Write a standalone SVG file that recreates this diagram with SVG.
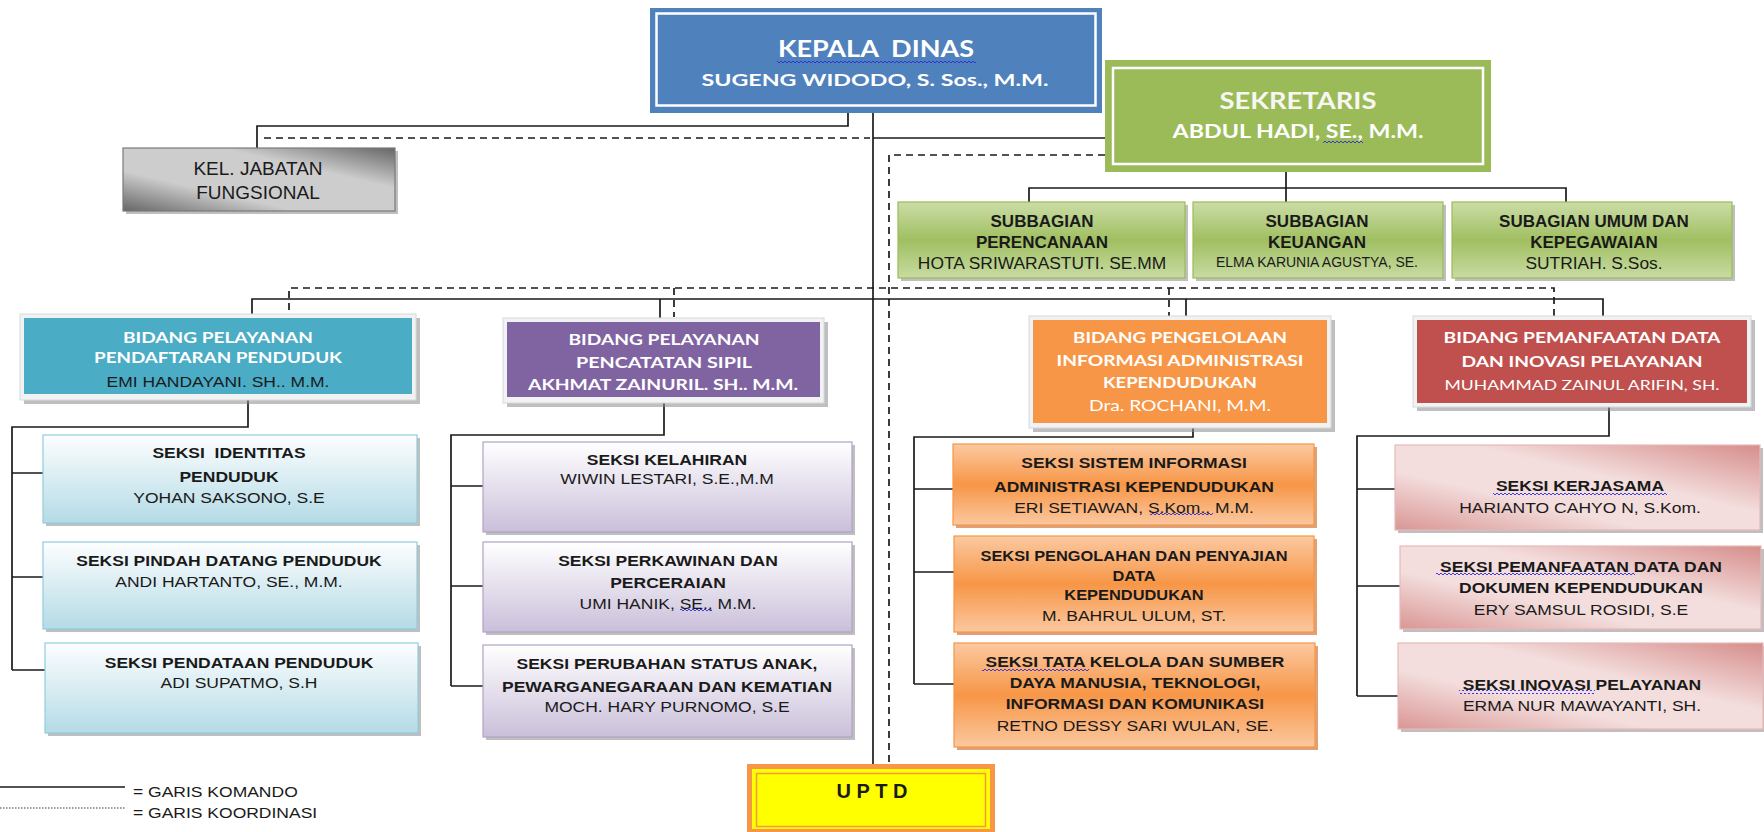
<svg xmlns="http://www.w3.org/2000/svg" width="1764" height="832" viewBox="0 0 1764 832">
<style>
.t{font-family:"Liberation Sans",Arial,sans-serif;text-anchor:middle;fill:#1a1a1a}
.b{font-weight:bold}
.c{font-family:Lato,"Open Sans",sans-serif;font-weight:bold;text-anchor:middle;fill:#ffffff}
.cn{font-family:Lato,"Open Sans",sans-serif;font-weight:normal;text-anchor:middle;fill:#ffffff}
.cs{font-family:Lato,"Open Sans",sans-serif;font-weight:bold;text-anchor:middle;fill:#f7f7f2}
.f155{font-size:15.5px}
.f145{font-size:14.5px}
.ln{fill:none;stroke:#1a1a1a;stroke-width:1.7}
.dl{fill:none;stroke:#1a1a1a;stroke-width:1.7;stroke-dasharray:7 5}
.sh{fill:#8a8a8a;opacity:0.55}
.fr{fill:#f0f2f3;stroke:#d6d9db;stroke-width:1}
</style>
<defs>
<linearGradient id="gGray" x1="0" y1="1" x2="1" y2="0"><stop offset="0" stop-color="#666"/><stop offset="0.32" stop-color="#cdcdcd"/><stop offset="0.68" stop-color="#cdcdcd"/><stop offset="1" stop-color="#666"/></linearGradient>
<linearGradient id="gGreen" x1="0" y1="0" x2="0" y2="1"><stop offset="0" stop-color="#cbdda7"/><stop offset="0.5" stop-color="#a0bf61"/><stop offset="1" stop-color="#c8dba2"/></linearGradient>
<linearGradient id="gTeal" x1="0" y1="0" x2="0" y2="1"><stop offset="0" stop-color="#fdfeff"/><stop offset="1" stop-color="#b4dbe6"/></linearGradient>
<linearGradient id="gPurple" x1="0" y1="0" x2="0" y2="1"><stop offset="0" stop-color="#ffffff"/><stop offset="1" stop-color="#cabfda"/></linearGradient>
<linearGradient id="gOrange" x1="0" y1="0" x2="0" y2="1"><stop offset="0" stop-color="#fbc9a1"/><stop offset="0.5" stop-color="#f79646"/><stop offset="1" stop-color="#fbc8a0"/></linearGradient>
<linearGradient id="gRed" x1="0" y1="1" x2="1" y2="0"><stop offset="0" stop-color="#d99694"/><stop offset="0.35" stop-color="#f3dedd"/><stop offset="0.6" stop-color="#f3dedd"/><stop offset="1" stop-color="#d68d8b"/></linearGradient>
<pattern id="wave" width="4" height="4" patternUnits="userSpaceOnUse"><path d="M0 2 L1 1 L2 2 L3 3 L4 2" fill="none" stroke="#2b2bd9" stroke-width="0.9"/></pattern>
</defs>
<rect width="1764" height="832" fill="#ffffff"/>

<g id="connectors">
<path class="ln" d="M848 113 V126 H257 V148"/>
<path class="ln" d="M873 113 V764"/>
<path class="ln" d="M873 138 H1105"/>
<path class="ln" d="M1286 164 V202 M1029 202 V188 H1566 V202"/>
<path class="ln" d="M252 314 V299 H1603 V316 M660 299 V318 M1186 299 V316"/>
<path class="ln" d="M248 394 V427 H12 V670 M12 473 H43 M12 577 H43 M12 670 H45"/>
<path class="ln" d="M664 397 V435 H451 V686 M451 486 H483 M451 586 H483 M451 686 H483"/>
<path class="ln" d="M1193 423 V437 H914 V684 M914 489 H953 M914 572 H954 M914 684 H954"/>
<path class="ln" d="M1609 403 V436 H1357 V696 M1357 489 H1395 M1357 586 H1400 M1357 696 H1398"/>
<path class="dl" d="M264 138 H870"/>
<path class="dl" d="M889 762 V155 H1105"/>
<path class="dl" d="M289 322 V288 H1554 V317 M674 288 V317 M1169 288 V320"/>
</g>

<g id="kepala-dinas">
<rect x="650" y="8" width="452" height="105" fill="#4f81bd"/>
<rect x="656.5" y="13.5" width="439" height="92" fill="none" stroke="#ffffff" stroke-width="2.5"/>
<text class="c" x="876" y="57" font-size="23.5" textLength="196" lengthAdjust="spacingAndGlyphs" xml:space="preserve">KEPALA  DINAS</text>
<rect x="777" y="60" width="199" height="4" fill="url(#wave)"/>
<text class="c" x="875" y="86" font-size="17.5" textLength="347" lengthAdjust="spacingAndGlyphs">SUGENG WIDODO, S. Sos., M.M.</text>
</g>

<g id="sekretaris">
<rect x="1105" y="60" width="386" height="112" fill="#9bbb59"/>
<rect x="1113" y="68" width="370" height="96" fill="none" stroke="#ffffff" stroke-width="2.5"/>
<text class="cs" x="1298" y="109" font-size="22" textLength="157" lengthAdjust="spacingAndGlyphs">SEKRETARIS</text>
<text class="c" x="1298" y="138" font-size="18" textLength="251" lengthAdjust="spacingAndGlyphs">ABDUL HADI, SE., M.M.</text>
<rect x="1323" y="140" width="40" height="4" fill="url(#wave)"/>
</g>

<g id="kel-jabatan-fungsional">
<rect class="sh" x="126" y="151" width="272" height="63"/>
<rect x="123" y="148" width="272" height="63" fill="url(#gGray)" stroke="#7a7a7a" stroke-width="1.2"/>
<text class="t" x="258" y="175" font-size="19">KEL. JABATAN</text>
<text class="t" x="258" y="199" font-size="19">FUNGSIONAL</text>
</g>

<g id="subbagian-perencanaan">
<rect class="sh" x="901" y="205" width="287" height="76"/>
<rect x="898" y="202" width="287" height="76" fill="url(#gGreen)" stroke="#9bbb59" stroke-width="1.2"/>
<text class="t b" x="1042" y="227" font-size="17">SUBBAGIAN</text>
<text class="t b" x="1042" y="248" font-size="17">PERENCANAAN</text>
<text class="t" x="1042" y="269" font-size="17.4">HOTA SRIWARASTUTI. SE.MM</text>
</g>

<g id="subbagian-keuangan">
<rect class="sh" x="1196" y="205" width="250" height="76"/>
<rect x="1193" y="202" width="250" height="76" fill="url(#gGreen)" stroke="#9bbb59" stroke-width="1.2"/>
<text class="t b" x="1317" y="227" font-size="17">SUBBAGIAN</text>
<text class="t b" x="1317" y="248" font-size="17">KEUANGAN</text>
<text class="t" x="1317" y="267" font-size="14">ELMA KARUNIA AGUSTYA, SE.</text>
</g>

<g id="subagian-umum">
<rect class="sh" x="1455" y="205" width="280" height="76"/>
<rect x="1452" y="202" width="280" height="76" fill="url(#gGreen)" stroke="#9bbb59" stroke-width="1.2"/>
<text class="t b" x="1594" y="227" font-size="17">SUBAGIAN UMUM DAN</text>
<text class="t b" x="1594" y="248" font-size="17">KEPEGAWAIAN</text>
<text class="t" x="1594" y="269" font-size="17.4">SUTRIAH. S.Sos.</text>
</g>

<g id="bidang-pendaftaran">
<rect class="sh" x="24" y="318" width="396" height="86"/>
<rect class="fr" x="20" y="314" width="396" height="86"/>
<rect x="24" y="318" width="388" height="76" fill="#4bacc6"/>
<text class="c" x="218" y="343" font-size="15.5" textLength="190" lengthAdjust="spacingAndGlyphs">BIDANG PELAYANAN</text>
<text class="c" x="218" y="363" font-size="15.5" textLength="248" lengthAdjust="spacingAndGlyphs">PENDAFTARAN PENDUDUK</text>
<g transform="translate(218 0) scale(1.13 1)"><text class="t f155" x="0" y="387">EMI HANDAYANI. SH.. M.M.</text></g>
</g>

<g id="bidang-pencatatan">
<rect class="sh" x="507" y="322" width="321" height="85"/>
<rect class="fr" x="503" y="318" width="321" height="85"/>
<rect x="507" y="322" width="313" height="75" fill="#8064a2"/>
<text class="c" x="664" y="345" font-size="15.5" textLength="191" lengthAdjust="spacingAndGlyphs">BIDANG PELAYANAN</text>
<text class="c" x="664" y="368" font-size="15.5" textLength="176" lengthAdjust="spacingAndGlyphs">PENCATATAN SIPIL</text>
<text class="c" x="663" y="390" font-size="15.5" textLength="270" lengthAdjust="spacingAndGlyphs">AKHMAT ZAINURIL. SH.. M.M.</text>
</g>

<g id="bidang-pengelolaan">
<rect class="sh" x="1033" y="320" width="302" height="112"/>
<rect class="fr" x="1029" y="316" width="302" height="112"/>
<rect x="1033" y="320" width="294" height="103" fill="#f79646"/>
<text class="c" x="1180" y="343" font-size="15" textLength="214" lengthAdjust="spacingAndGlyphs">BIDANG PENGELOLAAN</text>
<text class="c" x="1180" y="366" font-size="15" textLength="247" lengthAdjust="spacingAndGlyphs">INFORMASI ADMINISTRASI</text>
<text class="c" x="1180" y="388" font-size="15" textLength="154" lengthAdjust="spacingAndGlyphs">KEPENDUDUKAN</text>
<text class="cn" x="1180" y="411" font-size="15" textLength="182" lengthAdjust="spacingAndGlyphs">Dra. ROCHANI, M.M.</text>
</g>

<g id="bidang-pemanfaatan">
<rect class="sh" x="1417" y="320" width="338" height="91"/>
<rect class="fr" x="1413" y="316" width="338" height="91"/>
<rect x="1417" y="320" width="330" height="83" fill="#c0504d"/>
<text class="c" x="1582" y="343" font-size="15" textLength="277" lengthAdjust="spacingAndGlyphs">BIDANG PEMANFAATAN DATA</text>
<text class="c" x="1582" y="367" font-size="15" textLength="241" lengthAdjust="spacingAndGlyphs">DAN INOVASI PELAYANAN</text>
<text class="cn" x="1582" y="390" font-size="14" textLength="275" lengthAdjust="spacingAndGlyphs">MUHAMMAD ZAINUL ARIFIN, SH.</text>
</g>

<g id="seksi-identitas">
<rect class="sh" x="46" y="438" width="374" height="88"/>
<rect x="43" y="435" width="374" height="88" fill="url(#gTeal)" stroke="#92cddc" stroke-width="1.2"/>
<g transform="translate(229 0) scale(1.13 1)">
<text class="t b f155" x="0" y="458" xml:space="preserve">SEKSI  IDENTITAS</text>
<text class="t b f155" x="0" y="482">PENDUDUK</text>
<text class="t f155" x="0" y="503">YOHAN SAKSONO, S.E</text>
</g>
</g>

<g id="seksi-pindah-datang">
<rect class="sh" x="46" y="545" width="374" height="87"/>
<rect x="43" y="542" width="374" height="87" fill="url(#gTeal)" stroke="#92cddc" stroke-width="1.2"/>
<g transform="translate(229 0) scale(1.13 1)">
<text class="t b f155" x="0" y="566">SEKSI PINDAH DATANG PENDUDUK</text>
<text class="t f155" x="0" y="587">ANDI HARTANTO, SE., M.M.</text>
</g>
</g>

<g id="seksi-pendataan">
<rect class="sh" x="48" y="646" width="373" height="90"/>
<rect x="45" y="643" width="373" height="90" fill="url(#gTeal)" stroke="#92cddc" stroke-width="1.2"/>
<g transform="translate(239 0) scale(1.13 1)">
<text class="t b f155" x="0" y="668">SEKSI PENDATAAN PENDUDUK</text>
<text class="t f155" x="0" y="688">ADI SUPATMO, S.H</text>
</g>
</g>

<g id="seksi-kelahiran">
<rect class="sh" x="486" y="445" width="369" height="90"/>
<rect x="483" y="442" width="369" height="90" fill="url(#gPurple)" stroke="#b3a2c7" stroke-width="1.2"/>
<g transform="translate(667 0) scale(1.13 1)">
<text class="t b f155" x="0" y="465">SEKSI KELAHIRAN</text>
<text class="t f155" x="0" y="484">WIWIN LESTARI, S.E.,M.M</text>
</g>
</g>

<g id="seksi-perkawinan">
<rect class="sh" x="486" y="545" width="369" height="90"/>
<rect x="483" y="542" width="369" height="90" fill="url(#gPurple)" stroke="#b3a2c7" stroke-width="1.2"/>
<g transform="translate(668 0) scale(1.13 1)">
<text class="t b f155" x="0" y="566">SEKSI PERKAWINAN DAN</text>
<text class="t b f155" x="0" y="588">PERCERAIAN</text>
<text class="t f155" x="0" y="609">UMI HANIK, SE., M.M.</text>
</g>
<rect x="680" y="609" width="32" height="4" fill="url(#wave)"/>
</g>

<g id="seksi-perubahan-status">
<rect class="sh" x="486" y="648" width="369" height="92"/>
<rect x="483" y="645" width="369" height="92" fill="url(#gPurple)" stroke="#b3a2c7" stroke-width="1.2"/>
<g transform="translate(667 0) scale(1.13 1)">
<text class="t b f155" x="0" y="669">SEKSI PERUBAHAN STATUS ANAK,</text>
<text class="t b f155" x="0" y="692">PEWARGANEGARAAN DAN KEMATIAN</text>
<text class="t f155" x="0" y="712">MOCH. HARY PURNOMO, S.E</text>
</g>
</g>

<g id="seksi-sistem-informasi">
<rect x="956" y="447" width="361" height="81" fill="#c9631c" opacity="0.6"/>
<rect x="953" y="444" width="361" height="81" fill="url(#gOrange)" stroke="#f79646" stroke-width="1.2"/>
<g transform="translate(1134 0) scale(1.13 1)">
<text class="t b f155" x="0" y="468">SEKSI SISTEM INFORMASI</text>
<text class="t b f155" x="0" y="492">ADMINISTRASI KEPENDUDUKAN</text>
<text class="t f155" x="0" y="513">ERI SETIAWAN, S.Kom., M.M.</text>
</g>
<rect x="1150" y="513" width="63" height="4" fill="url(#wave)"/>
</g>

<g id="seksi-pengolahan">
<rect x="957" y="539" width="360" height="96" fill="#c9631c" opacity="0.6"/>
<rect x="954" y="536" width="360" height="96" fill="url(#gOrange)" stroke="#f79646" stroke-width="1.2"/>
<g transform="translate(1134 0) scale(1.13 1)">
<text class="t b f145" x="0" y="561">SEKSI PENGOLAHAN DAN PENYAJIAN</text>
<text class="t b f145" x="0" y="581">DATA</text>
<text class="t b f145" x="0" y="600">KEPENDUDUKAN</text>
<text class="t f155" x="0" y="621">M. BAHRUL ULUM, ST.</text>
</g>
</g>

<g id="seksi-tata-kelola">
<rect x="957" y="646" width="361" height="104" fill="#c9631c" opacity="0.6"/>
<rect x="954" y="643" width="361" height="104" fill="url(#gOrange)" stroke="#f79646" stroke-width="1.2"/>
<g transform="translate(1135 0) scale(1.13 1)">
<text class="t b f155" x="0" y="667">SEKSI TATA KELOLA DAN SUMBER</text>
<text class="t b f155" x="0" y="688">DAYA MANUSIA, TEKNOLOGI,</text>
<text class="t b f155" x="0" y="709">INFORMASI DAN KOMUNIKASI</text>
<text class="t f155" x="0" y="731">RETNO DESSY SARI WULAN, SE.</text>
</g>
<rect x="982" y="667" width="107" height="4" fill="url(#wave)"/>
</g>

<g id="seksi-kerjasama">
<rect class="sh" x="1398" y="448" width="365" height="85"/>
<rect x="1395" y="445" width="365" height="85" fill="url(#gRed)" stroke="#e6b9b8" stroke-width="1.2"/>
<g transform="translate(1580 0) scale(1.13 1)">
<text class="t b f155" x="0" y="491">SEKSI KERJASAMA</text>
<text class="t f155" x="0" y="513">HARIANTO CAHYO N, S.Kom.</text>
</g>
<rect x="1493" y="492" width="174" height="4" fill="url(#wave)"/>
</g>

<g id="seksi-pemanfaatan-data">
<rect class="sh" x="1403" y="549" width="361" height="83"/>
<rect x="1400" y="546" width="361" height="83" fill="url(#gRed)" stroke="#e6b9b8" stroke-width="1.2"/>
<g transform="translate(1581 0) scale(1.13 1)">
<text class="t b f155" x="0" y="572">SEKSI PEMANFAATAN DATA DAN</text>
<text class="t b f155" x="0" y="593">DOKUMEN KEPENDUDUKAN</text>
<text class="t f155" x="0" y="615">ERY SAMSUL ROSIDI, S.E</text>
</g>
<rect x="1436" y="572" width="199" height="4" fill="url(#wave)"/>
</g>

<g id="seksi-inovasi">
<rect class="sh" x="1401" y="646" width="363" height="86"/>
<rect x="1398" y="643" width="365" height="86" fill="url(#gRed)" stroke="#e6b9b8" stroke-width="1.2"/>
<g transform="translate(1582 0) scale(1.13 1)">
<text class="t b f155" x="0" y="690">SEKSI INOVASI PELAYANAN</text>
<text class="t f155" x="0" y="711">ERMA NUR MAWAYANTI, SH.</text>
</g>
<rect x="1459" y="690" width="136" height="4" fill="url(#wave)"/>
</g>

<g id="uptd">
<rect x="747" y="764" width="248" height="70" fill="#f79646"/>
<rect x="752" y="769" width="238" height="60" fill="#ffff00"/>
<rect x="756.5" y="773.5" width="229" height="53" fill="#ffff00" stroke="#f79646" stroke-width="1.5"/>
<text class="t b" x="872" y="798" font-size="20" fill="#000">U P T D</text>
</g>

<g id="legend">
<path d="M0 787 H125" fill="none" stroke="#1a1a1a" stroke-width="1.4"/>
<path d="M0 808 H125" fill="none" stroke="#333" stroke-width="1" stroke-dasharray="1.5 1.5"/>
<g transform="translate(133 0) scale(1.13 1)">
<text class="t" x="0" y="797" font-size="15.5" style="text-anchor:start">= GARIS KOMANDO</text>
<text class="t" x="0" y="818" font-size="15.5" style="text-anchor:start">= GARIS KOORDINASI</text>
</g>
</g>
</svg>
